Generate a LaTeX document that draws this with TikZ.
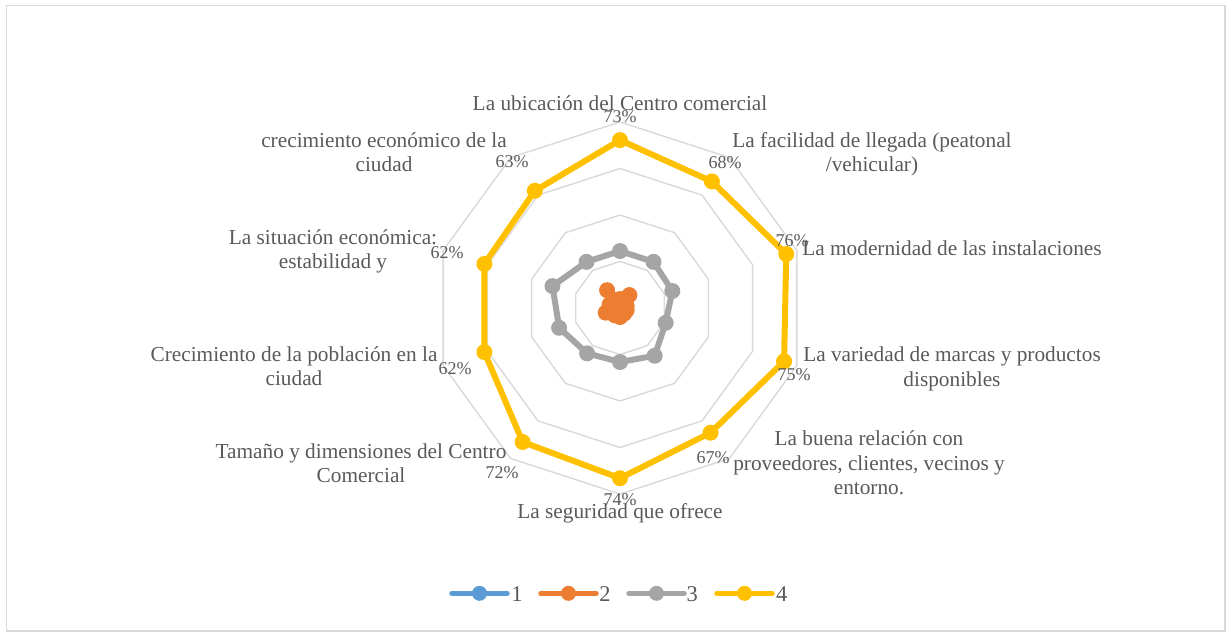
\documentclass[tikz,border=0pt]{standalone}
\usepackage{fontspec}
\setmainfont{Liberation Serif}
\definecolor{txt}{HTML}{595959}
\definecolor{gridc}{HTML}{D9D9D9}
\definecolor{sa}{HTML}{5B9BD5}
\definecolor{sb}{HTML}{ED7D31}
\definecolor{sc}{HTML}{A5A5A5}
\definecolor{sd}{HTML}{FFC000}
\begin{document}
\begin{tikzpicture}[x=1pt,y=-1pt,
  cat/.style={text=txt,font=\fontsize{21.3}{24.3}\selectfont,align=center,inner sep=0pt},
  pct/.style={text=txt,font=\fontsize{18}{20}\selectfont,inner sep=0pt},
  leg/.style={text=txt,font=\fontsize{22.5}{24}\selectfont,inner sep=0pt},
  gridline/.style={draw=gridc,line width=1.4pt,line join=miter},
  series/.style={line width=6pt,line join=round,line cap=round},
  mk/.style={circle,fill=#1,minimum size=16pt,inner sep=0pt}
]
\useasboundingbox (0,0) rectangle (1226,633);
\draw[draw=gridc,line width=1.5pt] (6.5,5.7) rectangle (1225,631);

% grid decagons
\foreach \g in {1,2,3,4} {
  \draw[gridline] (620,{308-46.5*\g})
    \foreach \k in {1,...,9} { -- ({620+46.5*\g*sin(36*\k)},{308-46.5*\g*cos(36*\k)}) } -- cycle;
}

% series 2 (orange)
\foreach \r [count=\i from 0] in {9,16,7,7,7,9,9,15,11,22}
  \coordinate (b\i) at ({620+\r*sin(36*\i)},{308-\r*cos(36*\i)});
\draw[series,sb,fill=sb] (b0) -- (b1) -- (b2) -- (b3) -- (b4) -- (b5) -- (b6) -- (b7) -- (b8) -- (b9) -- cycle;
\foreach \i in {0,...,9} \node[mk=sb] (bm\i) at (b\i) {};

% series 3 (gray)
\foreach \r [count=\i from 0] in {57,57,55,48,59,54,56,64,71,57}
  \coordinate (c\i) at ({620+\r*sin(36*\i)},{308-\r*cos(36*\i)});
\draw[series,sc] (c0) -- (c1) -- (c2) -- (c3) -- (c4) -- (c5) -- (c6) -- (c7) -- (c8) -- (c9) -- cycle;
\foreach \i in {0,...,9} \node[mk=sc] (cm\i) at (c\i) {};

% series 4 (yellow)
\foreach \v [count=\i from 0] in {73,68,76,75,67,74,72,62,62,63}
  \coordinate (d\i) at ({620+2.3*\v*sin(36*\i)},{308-2.3*\v*cos(36*\i)});
\draw[series,sd] (d0) -- (d1) -- (d2) -- (d3) -- (d4) -- (d5) -- (d6) -- (d7) -- (d8) -- (d9) -- cycle;
\foreach \i in {0,...,9} \node[mk=sd] (dm\i) at (d\i) {};

% percent labels
\node[pct] (p0) at (620,117) {73\%};
\node[pct] (p1) at (725,163) {68\%};
\node[pct] (p2) at (792,241) {76\%};
\node[pct] (p3) at (794,375) {75\%};
\node[pct] (p4) at (713,458) {67\%};
\node[pct] (p5) at (620,500) {74\%};
\node[pct] (p6) at (502,473) {72\%};
\node[pct] (p7) at (455,369) {62\%};
\node[pct] (p8) at (447,253) {62\%};
\node[pct] (p9) at (512,162) {63\%};

% category labels
\node[cat] (k0) at (620,102.7) {La ubicación del Centro comercial};
\node[cat] (k1) at (872,154.6) {La facilidad de llegada (peatonal\\/vehicular)};
\node[cat] (k2) at (952,248) {La modernidad de las instalaciones};
\node[cat] (k3) at (952,369) {La variedad de marcas y productos\\disponibles};
\node[cat] (k4) at (869,463) {La buena relación con\\proveedores, clientes, vecinos y\\entorno.};
\node[cat] (k5) at (620,513.6) {La seguridad que ofrece};
\node[cat] (k6) at (361,463) {Tamaño y dimensiones del Centro\\Comercial};
\node[cat] (k7) at (294,366.3) {Crecimiento de la población en la\\ciudad};
\node[cat] (k8) at (333,251.2) {La situación económica:\\estabilidad y};
\node[cat] (k9) at (384,152) {crecimiento económico de la\\ciudad};

% legend
\foreach \n/\xa/\xb/\xt/\col in {1/452/507/517/sa,2/541/596/605/sb,3/629/684/692.3/sc,4/717/772/781.7/sd} {
  \coordinate (la\n) at (\xa,593.3);
  \coordinate (lb\n) at (\xb,593.3);
  \draw[\col,line width=5.5pt,line cap=round] (la\n) -- (lb\n);
  \node[mk=\col,minimum size=15pt] (lm\n) at ({(\xa+\xb)/2},593.3) {};
  \node[leg] (lt\n) at (\xt,594) {\n};
}
\end{tikzpicture}
\end{document}
